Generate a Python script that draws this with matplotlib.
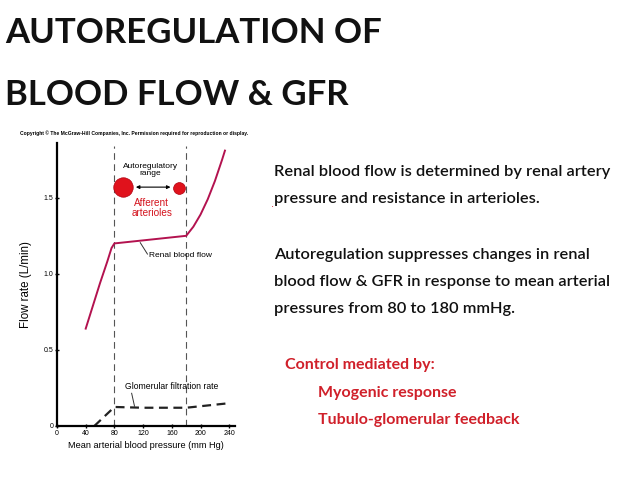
import numpy as np
import matplotlib
matplotlib.use('Agg')
import matplotlib.pyplot as plt

# 数据：肾血流量和肾小球滤过率随平均动脉压变化
pressure_rbf = [40, 50, 60, 70, 76, 80, 100, 120, 140, 160, 180, 190, 200, 210, 220, 230, 234]
renal_flow = [0.64, 0.79, 0.94, 1.08, 1.17, 1.20, 1.21, 1.22, 1.23, 1.24, 1.25, 1.31, 1.39, 1.49, 1.61, 1.75, 1.81]

pressure_gfr = [52, 80, 120, 180, 240]
gfr_flow = [0.0, 0.125, 0.12, 0.12, 0.15]

range_limits = [80, 180]
x_ticks = [0, 40, 80, 120, 160, 200, 240]
y_ticks = [0, 0.5, 1.0, 1.5]
y_tick_labels = ['0', '0.5', '1.0', '1.5']

body_lines = ['Renal blood flow is determined by renal artery',
              'pressure and resistance in arterioles.',
              '',
              'Autoregulation suppresses changes in renal',
              'blood flow & GFR in response to mean arterial',
              'pressures from 80 to 180 mmHg.']

red_lines = ['Control mediated by:', 'Myogenic response', 'Tubulo-glomerular feedback']

plt.rcParams['font.family'] = ['Liberation Sans', 'DejaVu Sans']

fig = plt.figure(figsize=(6.38, 4.79), dpi=100)
fig.patch.set_facecolor('white')

# 标题
fig.text(0.008, 1 - 43 / 479, 'AUTOREGULATION OF', fontsize=25, fontweight='bold',
         family='Lato', va='baseline', ha='left', color='#111111')
fig.text(0.008, 1 - 105 / 479, 'BLOOD FLOW & GFR', fontsize=25, fontweight='bold',
         family='Lato', va='baseline', ha='left', color='#111111')

fig.text(0.031, 0.722, 'Copyright \u00a9 The McGraw-Hill Companies, Inc. Permission required for reproduction or display.',
         fontsize=3.6, fontweight='bold', va='center', ha='left')

# 图表
ax = fig.add_axes([57 / 638, 53 / 479, 178 / 638, 283 / 479])
ax.set_xlim(0, 248)
ax.set_ylim(0, 1.86)
ax.spines['top'].set_visible(False)
ax.spines['right'].set_visible(False)
ax.spines['left'].set_linewidth(1.6)
ax.spines['bottom'].set_linewidth(1.6)

for xv in range_limits:
    ax.plot([xv, xv], [0, 1.84], color='#555555', lw=0.8, ls=(0, (6, 4)), clip_on=False)

ax.plot(pressure_rbf, renal_flow, color='#b3124f', lw=1.4)
ax.plot(pressure_gfr, gfr_flow, color='#222222', lw=1.6, ls=(0, (4, 2.5)))

ax.set_xticks(x_ticks)
ax.set_yticks(y_ticks)
ax.set_yticklabels(y_tick_labels)
ax.tick_params(axis='both', labelsize=5, length=2.5, width=1, pad=1.5, direction='inout')
ax.set_xlabel('Mean arterial blood pressure (mm Hg)', fontsize=6.6, labelpad=3)
ax.set_ylabel('Flow rate (L/min)', fontsize=8.3, labelpad=8)

# 注释
ax.text(130, 1.68, 'Autoregulatory\nrange', fontsize=6, ha='center', va='center', linespacing=1.0)
ax.annotate('', xy=(106, 1.57), xytext=(162, 1.57),
            arrowprops=dict(arrowstyle='<|-|>', color='black', lw=0.8, mutation_scale=5))
ax.plot([92], [1.57], 'o', ms=14, color='#e0121c', mec='#b00010', mew=0.5)
ax.plot([170], [1.565], 'o', ms=8.5, color='#e0121c', mec='#b00010', mew=0.5)
ax.text(132, 1.43, 'Afferent\narterioles', fontsize=7.2, ha='center', va='center',
        color='#d4141e', linespacing=1.0)

ax.plot([116, 126], [1.205, 1.13], color='#333333', lw=0.7)
ax.text(128, 1.12, 'Renal blood flow', fontsize=6, ha='left', va='center')

ax.plot([104, 108], [0.215, 0.13], color='#333333', lw=0.7)
ax.text(160, 0.26, 'Glomerular filtration rate', fontsize=6.2, ha='center', va='center')

# 右侧文字
y0 = 172
for i, line in enumerate(body_lines):
    if line:
        fig.text(274 / 638, 1 - (y0 + i * 27.5) / 479, line, fontsize=11.8, family='Lato',
                 va='center', ha='left', color='#111111', fontweight='semibold')

fig.text(272 / 638, 1 - 204 / 479, '.', fontsize=8, color='#d02030', ha='center', va='center')

red_pos = [(285, 365), (318, 393), (318, 420)]
for (px, py), line in zip(red_pos, red_lines):
    fig.text(px / 638, 1 - py / 479, line, fontsize=11.5, family='Lato', va='center', ha='left',
             color='#d0202a', fontweight='bold')

fig.savefig('out.png', dpi=100, facecolor='white')
